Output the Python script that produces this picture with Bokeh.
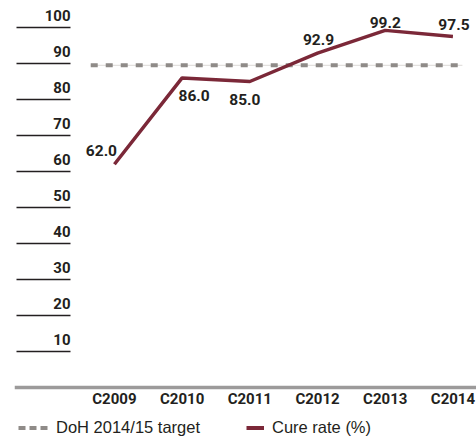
from bokeh.plotting import figure
from bokeh.models import (Range1d, FixedTicker, LinearAxis, Legend, LegendItem,
                          ColumnDataSource)
from bokeh.core.properties import value
from bokeh.embed import file_html
from bokeh.resources import INLINE

# ---- data ----
cohorts = ["C2009", "C2010", "C2011", "C2012", "C2013", "C2014"]
cure_rate = [62.0, 86.0, 85.0, 92.9, 99.2, 97.5]
target_value = 89.5
y_ticks = [10, 20, 30, 40, 50, 60, 70, 80, 90, 100]

# ---- styling ----
MAROON = "#7b2838"
GREY = "#8f8b88"
TEXT = "#231f20"
TICKFONT = "Roboto"
label_dx = [-13, 12, -5, 1, 0, 1]
label_dy = [-14, 18, 18, -14, -8, -12]

xs = list(range(len(cohorts)))

p = figure(width=476, height=437, min_border_left=14, min_border_right=0,
           min_border_top=0, min_border_bottom=0,
           x_range=Range1d(-1.476, 5.348), y_range=Range1d(-13.9, 107.5),
           x_axis_type=None, y_axis_type=None,
           output_backend="svg", toolbar_location=None)
p.outline_line_color = None
p.background_fill_color = "white"
p.border_fill_color = "white"

# x axis, pinned at y = 0
xaxis = LinearAxis(ticker=FixedTicker(ticks=xs), fixed_location=0,
                   major_label_overrides={i: c for i, c in enumerate(cohorts)})
xaxis.axis_line_color = "#9c9a9a"
xaxis.axis_line_width = 3.5
xaxis.major_tick_out = 0
xaxis.major_tick_in = 0
xaxis.major_tick_line_color = None
xaxis.minor_tick_out = 0
xaxis.minor_tick_line_color = None
xaxis.major_label_standoff = 3
xaxis.major_label_text_font = TICKFONT
xaxis.major_label_text_font_style = "bold"
xaxis.major_label_text_font_size = "15px"
xaxis.major_label_text_color = TEXT
p.add_layout(xaxis, "below")

# y axis (labels sit above the tick rules)
yaxis = LinearAxis(ticker=FixedTicker(ticks=y_ticks), fixed_location=-0.648,
                   major_label_overrides={t: f"{t}\n" for t in y_ticks})
yaxis.axis_line_color = None
yaxis.major_tick_out = 54
yaxis.major_tick_in = 0
yaxis.major_tick_line_color = TEXT
yaxis.major_tick_line_width = 1.5
yaxis.minor_tick_line_color = None
yaxis.major_label_standoff = -54
yaxis.major_label_text_font = TICKFONT
yaxis.major_label_text_font_style = "bold"
yaxis.major_label_text_font_size = "15px"
yaxis.major_label_text_line_height = 1.3
yaxis.major_label_text_color = TEXT
p.add_layout(yaxis, "left")

# target line
tx = [xs[0] - 0.35, xs[-1] + 0.14]
p.line(tx, [target_value, target_value], line_color="#dcd9d6", line_width=1)
p.line(tx, [target_value, target_value], line_color=GREY, line_width=4,
       line_dash="7 8")

# cure rate line
cure = p.line(xs, cure_rate, line_color=MAROON, line_width=3.5, line_join="round")

src = ColumnDataSource(dict(x=xs, y=cure_rate,
                            t=[f"{v:.1f}" for v in cure_rate],
                            dx=label_dx, dy=label_dy))
p.text(x="x", y="y", text="t", x_offset="dx", y_offset="dy", source=src,
       text_align="center", text_baseline="middle",
       text_font=value(TICKFONT), text_font_style="bold",
       text_font_size="15.5px", text_color=TEXT)

# legend glyph stand-ins (single point -> nothing drawn in the plot itself)
leg_target = p.line([xs[0]], [target_value], line_color=GREY, line_width=4,
                    line_dash="7 4 7 4 7 4", line_dash_offset=29)
leg_cure = p.line([xs[0]], [cure_rate[0]], line_color=MAROON, line_width=4,
                  line_dash="18 16", line_dash_offset=18)

legend = Legend(items=[LegendItem(label="DoH 2014/15 target", renderers=[leg_target]),
                       LegendItem(label="Cure rate (%)", renderers=[leg_cure])],
                orientation="horizontal", location=(0, 0),
                border_line_color=None, background_fill_alpha=0,
                padding=0, margin=0, spacing=30,
                glyph_width=34, glyph_height=19, label_height=19,
                label_standoff=8,
                label_text_font="Liberation Sans", label_text_font_size="16.5px",
                label_text_color=TEXT)
p.add_layout(legend, "center")

open("out.html", "w").write(file_html(p, INLINE))
